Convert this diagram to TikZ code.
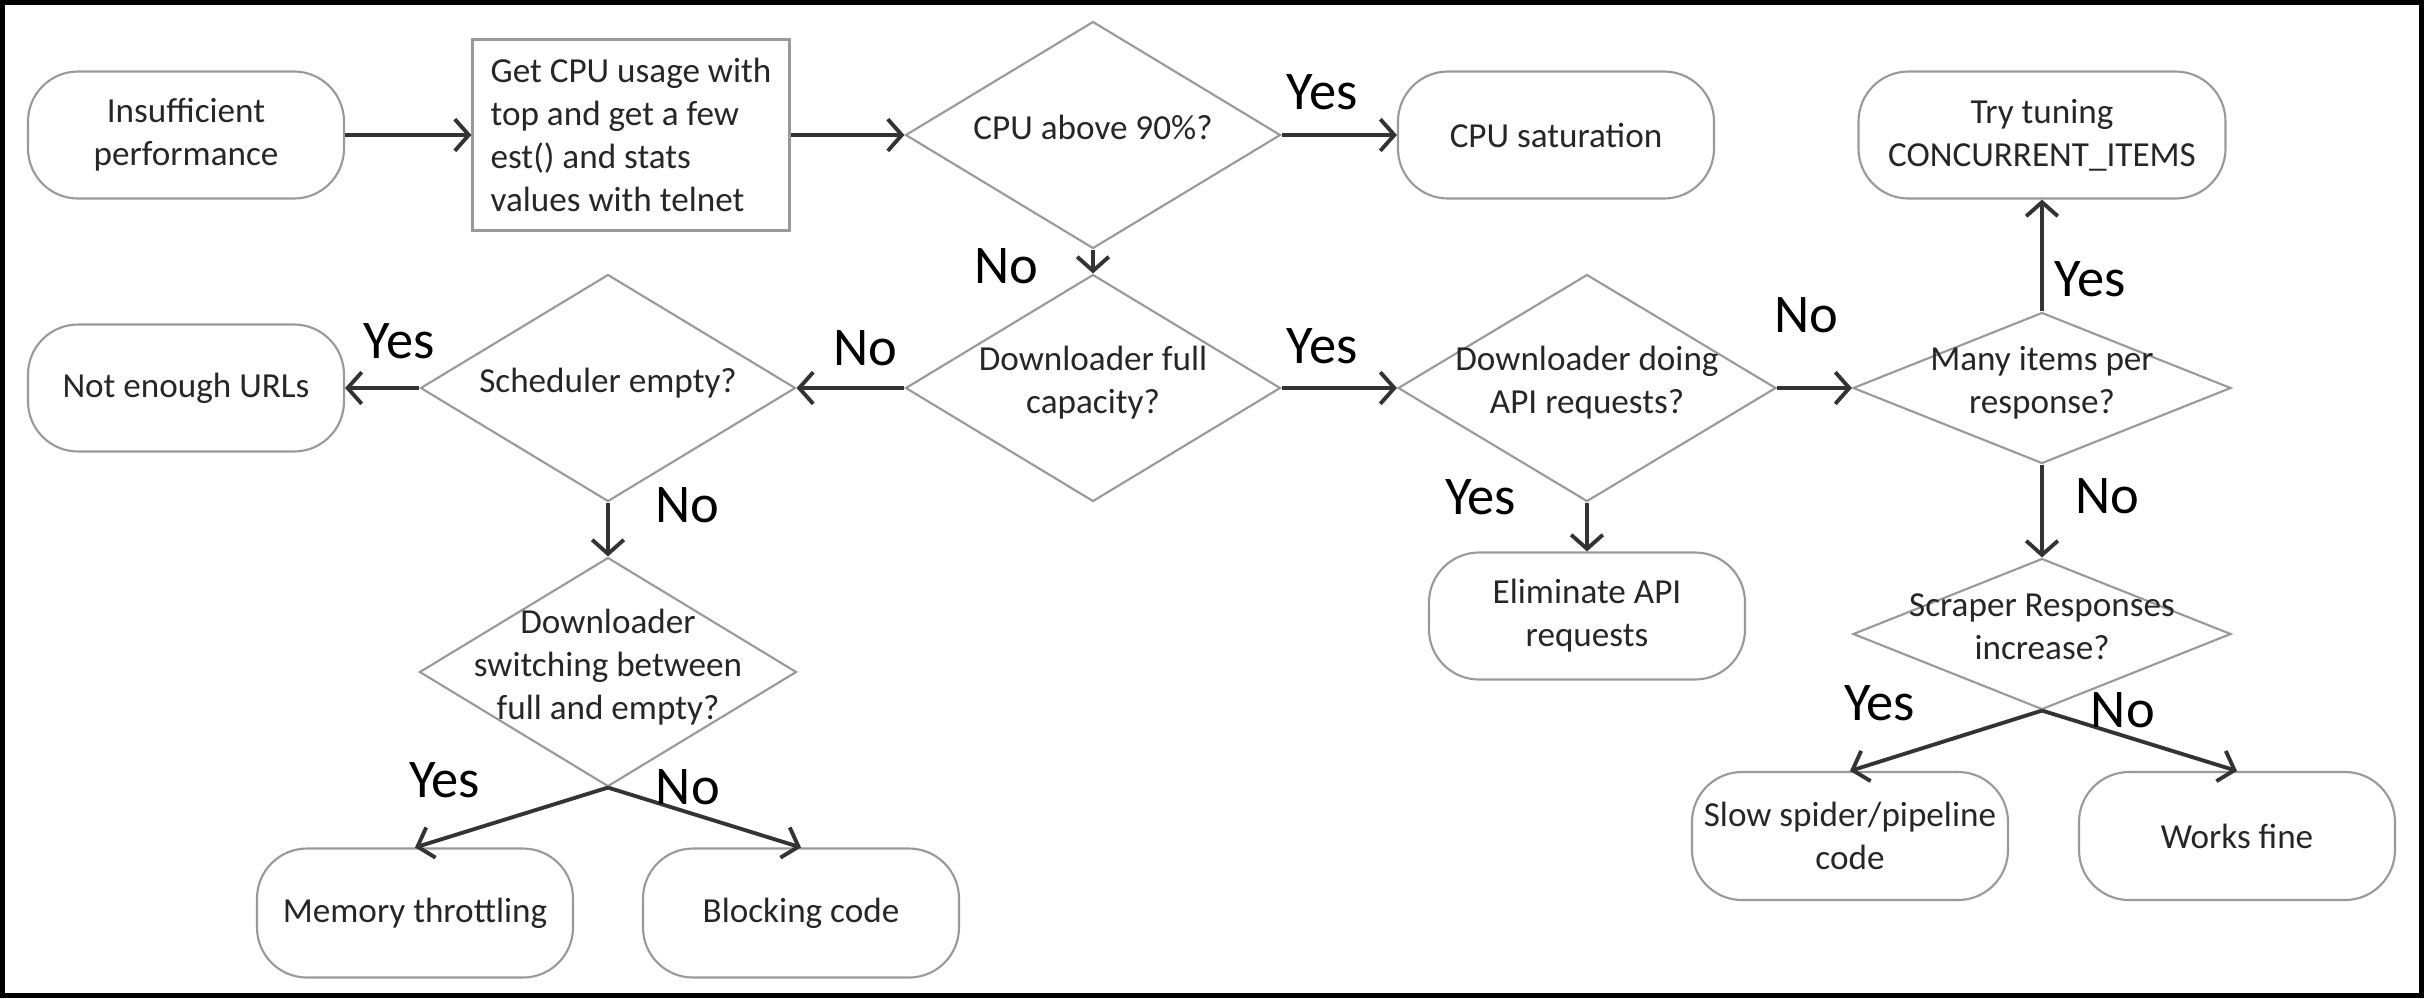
\documentclass[tikz,border=0pt]{standalone}
\usepackage{fontspec}
\setmainfont{Carlito}
\usetikzlibrary{shapes.geometric,arrows.meta,positioning}

% text of a decision, kept out of the diamond size
\newcommand{\dtxt}[1]{\raisebox{-2.5pt}{\smash{\makebox[0pt]{\begin{tabular}{@{}c@{}}#1\end{tabular}}}}}

\tikzset{
	box/.style={draw=black!40,line width=0.6pt,text=black!85,font=\fontsize{10}{12.2}\selectfont},
	term/.style={box,rounded corners=0.5cm,minimum width=3.16cm,minimum height=1.27cm,align=center,inner sep=0pt},
	proc/.style={box,minimum width=3.17cm,minimum height=1.91cm,align=left,inner sep=0.1cm},
	decision/.style={box,diamond,minimum width=3.75cm,minimum height=2.27cm,inner sep=0pt},
	flat/.style={minimum width=3.78cm,minimum height=1.51cm},
	arr/.style={-{Straight Barb[length=4pt,width=9pt]},line width=1.1pt,black!80},
	lbl/.style={font=\fontsize{15.5}{18}\selectfont,inner sep=0pt,text=black}
}

\begin{document}
\begin{tikzpicture}
	\useasboundingbox (0,0) rectangle (24.24,-9.98);
	\draw[line width=1.4pt] (0.025,-0.025) rectangle (24.215,-9.955);

	% top row
	\node[term] (ins) at (1.86,-1.35) {Insufficient\\performance};
	\node[proc] (getcpu) at (6.31,-1.35) {Get CPU usage with\\top and get a few\\est() and stats\\values with telnet};
	\node[decision] (cpu) at (10.93,-1.35) {\dtxt{CPU above 90\%?}};
	\node[term] (cpusat) at (15.56,-1.35) {CPU saturation};
	\node[term,minimum width=3.67cm] (tune) at (20.42,-1.35) {Try tuning\\CONCURRENT\_ITEMS};

	% middle row
	\node[term] (urls) at (1.86,-3.88) {Not enough URLs};
	\node[decision] (sched) at (6.08,-3.88) {\dtxt{Scheduler empty?}};
	\node[decision] (full) at (10.93,-3.88) {\dtxt{Downloader full\\capacity?}};
	\node[decision,minimum width=3.78cm] (api) at (15.87,-3.88) {\dtxt{Downloader doing\\API requests?}};
	\node[decision,flat] (items) at (20.42,-3.88) {\dtxt{Many items per\\response?}};

	% lower rows
	\node[decision,minimum width=3.77cm,minimum height=2.29cm] (switch) at (6.08,-6.72) {\dtxt{Downloader\\switching between\\full and empty?}};
	\node[term] (elim) at (15.87,-6.16) {Eliminate API\\requests};
	\node[decision,flat] (scraper) at (20.42,-6.34) {\dtxt{Scraper Responses\\increase?}};
	\node[term,minimum height=1.29cm] (memory) at (4.15,-9.13) {Memory throttling};
	\node[term,minimum height=1.29cm] (blocking) at (8.01,-9.13) {Blocking code};
	\node[term,minimum height=1.28cm] (slow) at (18.50,-8.36) {Slow spider/pipeline\\code};
	\node[term,minimum height=1.28cm] (fine) at (22.37,-8.36) {Works fine};

	% connectors
	\draw[arr] (ins) -- (getcpu);
	\draw[arr] (getcpu) -- (cpu);
	\draw[arr] (cpu) -- node[lbl,above=6.7pt,pos=0.35]{Yes} (cpusat);
	\draw[arr] (cpu.south) -- node[lbl,left=15pt,pos=0.7]{No} (full.north);
	\draw[arr] (full) -- node[lbl,above=5.8pt,pos=0.36]{No} (sched);
	\draw[arr] (sched) -- node[lbl,above=7.8pt,pos=0.27]{Yes} (urls);
	\draw[arr] (sched.south) -- node[lbl,right=13pt,pos=0.05]{No} (switch.north);
	\draw[arr] (switch.south) -- node[lbl,left=1.26cm,pos=0,yshift=2pt]{Yes} (memory.north);
	\draw[arr] (switch.south) -- node[lbl,right=0.46cm,pos=0]{No} (blocking.north);
	\draw[arr] (full) -- node[lbl,above=6.4pt,pos=0.35]{Yes} (api);
	\draw[arr] (api.south) -- node[lbl,left=19.6pt,pos=0,yshift=1.4pt]{Yes} (elim.north);
	\draw[arr] (api) -- node[lbl,above=15pt,pos=0.39]{No} (items);
	\draw[arr] (items.north) -- node[lbl,right=3pt,pos=0.29]{Yes} (tune.south);
	\draw[arr] (items.south) -- node[lbl,right=9pt,pos=0.34]{No} (scraper.north);
	\draw[arr] (scraper.south) -- node[lbl,left=1.25cm,pos=0,yshift=2pt]{Yes} (slow.north);
	\draw[arr] (scraper.south) -- node[lbl,right=0.47cm,pos=0]{No} (fine.north);
\end{tikzpicture}
\end{document}
